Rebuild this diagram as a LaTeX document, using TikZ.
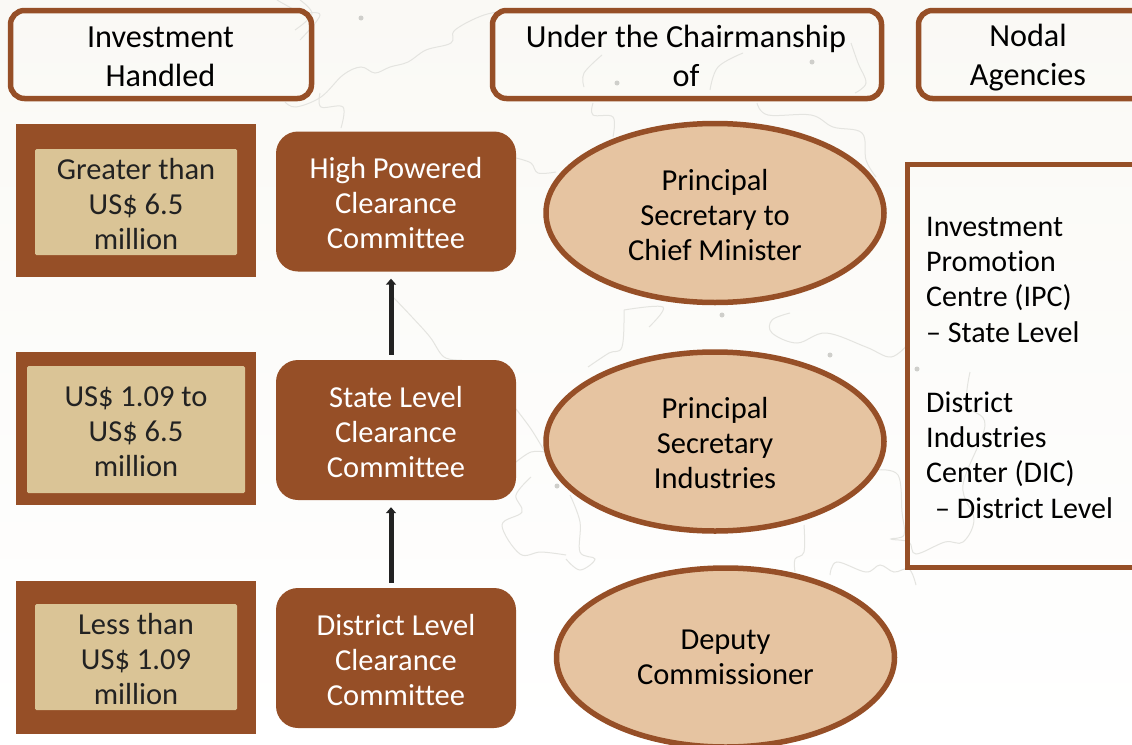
\documentclass[tikz,border=0pt]{standalone}
\usepackage{fontspec}
\setmainfont[Ligatures=NoCommon]{Carlito}
\usetikzlibrary{shapes.geometric,arrows.meta}
\definecolor{brownc}{HTML}{964F27}
\definecolor{tanc}{HTML}{DAC496}
\definecolor{peachc}{HTML}{E6C4A1}
\definecolor{mapc}{HTML}{E4E4E0}
\definecolor{dotc}{HTML}{CFCFCB}
\definecolor{paperc}{HTML}{FAF9F5}
\definecolor{inkc}{HTML}{222222}
\newcommand\mapline[1]{\draw[maplinec] plot[smooth,tension=0.6] coordinates {#1};}
\newcommand\lowerby{\rule{0pt}{25pt}}
\tikzset{
  x=1pt,y=-1pt,
  maplinec/.style={draw=mapc,line width=1pt},
  headerbox/.style={draw=brownc,line width=5.5pt,rounded corners=14pt,fill=none},
  headertext/.style={font=\fontsize{32.2}{39}\selectfont,align=center,text=black,inner sep=0pt},
  outerbox/.style={fill=brownc,draw=none,anchor=north west,inner sep=0pt,minimum width=240pt,minimum height=153pt},
  innerbox/.style={fill=tanc,draw=none,rounded corners=1.5pt,inner sep=0pt,text=inkc,align=center,font=\fontsize{30.5}{35}\selectfont},
  committee/.style={fill=brownc,draw=none,rounded corners=22pt,inner sep=0pt,text=white,align=center,font=\fontsize{30.5}{35}\selectfont,minimum width=240pt,minimum height=140pt},
  chair/.style={ellipse,draw=brownc,fill=peachc,line width=5.5pt,inner sep=0pt,align=center,text=black,font=\fontsize{30.5}{35}\selectfont,minimum width=338pt,minimum height=179pt},
  agencybox/.style={draw=brownc,line width=5.5pt,fill=none},
  agencytext/.style={anchor=north west,inner sep=0pt,align=left,text=black,font=\fontsize{30}{35.2}\selectfont},
  uparrow/.style={draw=inkc,line width=5pt,-{Triangle[length=6pt,width=10pt]}},
}
\begin{document}
\begin{tikzpicture}
\useasboundingbox (0,0) rectangle (1132,744);
\begin{scope}
\clip (0,0) rectangle (1132,744);
\shade[top color=paperc,bottom color=white,middle color=paperc!50] (0,0) rectangle (1132,744);
% faint map outline
\mapline{(513,10)(484,15)(455,30)(451,43)(426,50)(408,62)(390,67)(375,73)(361,67)(343,75)(321,97)(296,107)(285,102)}
\mapline{(320,93)(321,107)(343,107)(341,128)}
\mapline{(516,158)(531,163)(538,173)(556,172)}
\mapline{(393,297)(412,317)(430,337)(444,357)(462,360)}
\mapline{(516,409)(531,429)(545,452)}
\mapline{(516,462)(531,452)(545,452)}
\mapline{(531,477)(516,495)(522,512)(502,525)(520,554)(541,552)(566,555)}
\mapline{(593,103)(593,115)(613,117)(613,137)}
\mapline{(757,103)(768,115)(811,115)(833,127)(862,133)(866,160)(876,177)}
\mapline{(624,310)(622,347)(609,353)(588,367)}
\mapline{(624,310)(663,307)(649,327)}
\mapline{(790,313)(772,320)(772,333)(797,343)(826,333)(866,347)(891,357)(909,343)}
\mapline{(851,43)(858,63)(866,83)(855,93)}
\mapline{(743,53)(718,67)(710,90)}
\mapline{(602,55)(584,73)(584,87)}
\mapline{(876,470)(898,475)(902,512)(904,535)(891,539)(909,542)(916,554)(945,542)(963,542)(974,519)(963,485)(985,425)(967,405)(970,372)}
\mapline{(804,525)(804,552)(795,559)(795,572)}
\mapline{(830,575)(837,562)(866,572)(880,565)(894,572)(909,569)(916,585)}
\mapline{(570,495)(580,522)(580,552)(595,559)(580,570)(566,559)}
\mapline{(277,0)(300,12)(320,15)(300,40)}
\mapline{(300,0)(312,14)(295,30)}
\foreach \dx/\dy in {361/18,617/83,812/62,722/315,830/355,557/486,917/369}{
 \fill[dotc] (\dx,\dy) circle (2.5pt);
}
% header boxes
\draw[headerbox] (10.5,10.5) rectangle (311.5,98.5);
\node[headertext] (h1) at (160.5,56.5) {Investment\\Handled};
\draw[headerbox] (492.5,10.5) rectangle (881.5,98.5);
\node[headertext] (h2) at (686,56) {Under the Chairmanship\\of};
\draw[headerbox] (918.5,10.5) rectangle (1150,98.5);
\node[headertext] (h3) at (1028,57.5) {Nodal\\Agencies};
% investment column
\node[outerbox] (o1) at (16,124) {};
\node[outerbox] (o2) at (16,352) {};
\node[outerbox] (o3) at (16,581) {};
\node[innerbox,minimum width=202pt,minimum height=106pt] (i1) at (136,202) {\lowerby Greater than\\US\$ 6.5\\million};
\node[innerbox,minimum width=218pt,minimum height=127pt] (i2) at (136,429.5) {\lowerby US\$ 1.09 to\\US\$ 6.5\\million};
\node[innerbox,minimum width=202pt,minimum height=106pt] (i3) at (136,657) {\lowerby Less than\\US\$ 1.09\\million};
% committees
\node[committee] (c1) at (396,201.5) {\lowerby High Powered\\Clearance\\Committee};
\node[committee] (c2) at (396,430) {\lowerby State Level\\Clearance\\Committee};
\node[committee] (c3) at (396,658) {\lowerby District Level\\Clearance\\Committee};
\coordinate (ax) at (391,0);
\draw[uparrow,shorten >=7pt,shorten <=5pt] (c3.north -| ax) -- (c2.south -| ax);
\draw[uparrow,shorten >=7pt,shorten <=5pt] (c2.north -| ax) -- (c1.south -| ax);
% chair ellipses
\node[chair] (e1) at (715,213) {\lowerby Principal\\Secretary to\\Chief Minister};
\node[chair] (e2) at (715,441.5) {\lowerby Principal\\Secretary\\Industries};
\node[chair] (e3) at (725.5,657.5) {Deputy\\Commissioner};
% agencies
\draw[agencybox] (907.5,164.5) rectangle (1150,567.5);
\node[agencytext] (a1) at (926,217) {Investment\\Promotion\\Centre (IPC)\\– State Level\\[35.2pt]District\\Industries\\Center (DIC)\\\hspace*{9pt}– District Level};
\end{scope}
\end{tikzpicture}
\end{document}
